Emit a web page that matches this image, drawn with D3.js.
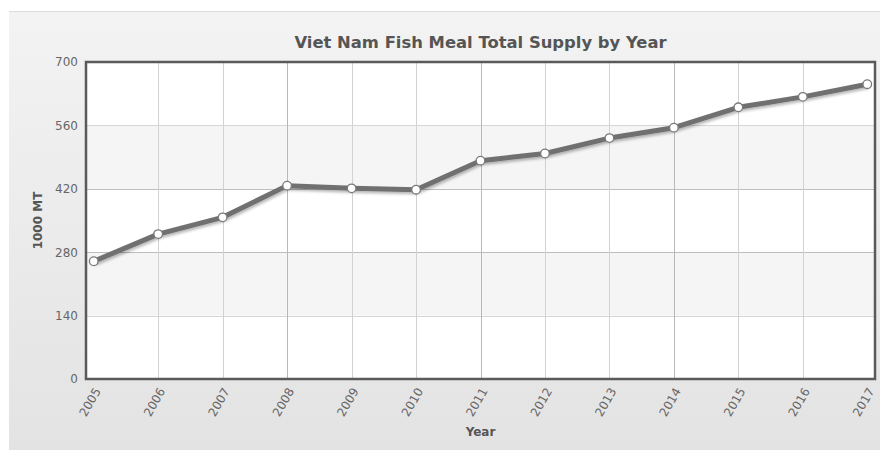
<!DOCTYPE html>
<html>
<head>
<meta charset="utf-8">
<script src="https://cdn.jsdelivr.net/npm/d3@7/dist/d3.min.js"></script>
<style>
  html, body { margin: 0; padding: 0; background: #fff; }
  svg { display: block; font-family: "DejaVu Sans", Verdana, sans-serif; }
</style>
</head>
<body>
<svg id="chart" width="880" height="450"></svg>
<script>
// Viet Nam fish meal total supply, thousand metric tons
const years = ["2005", "2006", "2007", "2008", "2009", "2010", "2011",
               "2012", "2013", "2014", "2015", "2016", "2017"];
const supply = [260, 320, 357, 427, 421, 418, 482, 498, 532, 555, 600, 623, 651];
const yTicks = [0, 140, 280, 420, 560, 700];
const titleText = "Viet Nam Fish Meal Total Supply by Year";
const yAxisTitle = "1000 MT";
const xAxisTitle = "Year";

const W = 880, H = 450;
const plot = { left: 86, right: 875, top: 62, bottom: 379 };

const svg = d3.select("#chart");
const defs = svg.append("defs");

// panel background gradient
const grad = defs.append("linearGradient")
  .attr("id", "panelGrad").attr("x1", 0).attr("y1", 0).attr("x2", 0).attr("y2", 1);
grad.append("stop").attr("offset", "0%").attr("stop-color", "#f3f3f3");
grad.append("stop").attr("offset", "100%").attr("stop-color", "#e3e3e3");

// soft shadow under the series line
const shadow = defs.append("filter").attr("id", "lineShadow")
  .attr("x", "-5%").attr("y", "-20%").attr("width", "110%").attr("height", "140%");
shadow.append("feGaussianBlur").attr("in", "SourceAlpha").attr("stdDeviation", 1.6).attr("result", "b");
shadow.append("feOffset").attr("in", "b").attr("dx", 1).attr("dy", 2).attr("result", "o");
shadow.append("feComponentTransfer").attr("in", "o").attr("result", "s")
  .append("feFuncA").attr("type", "linear").attr("slope", 0.3);
const merge = shadow.append("feMerge");
merge.append("feMergeNode").attr("in", "s");
merge.append("feMergeNode").attr("in", "SourceGraphic");

svg.append("rect")
  .attr("x", 9).attr("y", 11).attr("width", W - 9).attr("height", H - 11)
  .attr("fill", "url(#panelGrad)");
svg.append("line")
  .attr("x1", 9).attr("x2", W).attr("y1", 11.5).attr("y2", 11.5)
  .attr("stroke", "#dcdcdc");

// scales
const x = d3.scalePoint().domain(years)
  .range([plot.left, plot.right]).padding(0.12);
const y = d3.scaleLinear().domain([0, 700]).range([plot.bottom, plot.top]);

// plot background with alternating bands
svg.append("rect")
  .attr("x", plot.left).attr("y", plot.top)
  .attr("width", plot.right - plot.left).attr("height", plot.bottom - plot.top)
  .attr("fill", "#fff");
const bands = d3.pairs(yTicks).filter((d, i) => i % 2 === 1);
svg.append("g").selectAll("rect").data(bands).join("rect")
  .attr("x", plot.left).attr("width", plot.right - plot.left)
  .attr("y", d => y(d[1])).attr("height", d => y(d[0]) - y(d[1]))
  .attr("fill", "#f5f5f5");

// horizontal grid
svg.append("g").selectAll("line").data(yTicks.slice(1, -1)).join("line")
  .attr("x1", plot.left).attr("x2", plot.right)
  .attr("y1", d => Math.round(y(d)) + 0.5).attr("y2", d => Math.round(y(d)) + 0.5)
  .attr("stroke", d => (d === 280 || d === 420) ? "#bdbdbd" : "#d6d6d6");

// vertical grid
svg.append("g").selectAll("line").data(years.slice(1, -1)).join("line")
  .attr("x1", d => Math.round(x(d)) + 0.5).attr("x2", d => Math.round(x(d)) + 0.5)
  .attr("y1", plot.top).attr("y2", plot.bottom)
  .attr("stroke", (d, i) => ((i + 1) % 3 === 0) ? "#b8b8b8" : "#d2d2d2");

// plot frame
svg.append("rect")
  .attr("x", plot.left).attr("y", plot.top)
  .attr("width", plot.right - plot.left).attr("height", plot.bottom - plot.top)
  .attr("fill", "none").attr("stroke", "#5a5a5a").attr("stroke-width", 2.5);

// y axis labels
const yAxis = d3.axisLeft(y).tickValues(yTicks).tickSize(0).tickPadding(8);
const gy = svg.append("g").attr("transform", `translate(${plot.left},0)`).call(yAxis);
gy.select(".domain").remove();
gy.selectAll("text").attr("font-size", 12).attr("fill", "#666")
  .attr("font-family", "DejaVu Sans, Verdana, sans-serif");

// x axis labels, rotated
const xAxis = d3.axisBottom(x).tickSize(0).tickPadding(0);
const gx = svg.append("g").attr("transform", `translate(0,${plot.bottom})`).call(xAxis);
gx.select(".domain").remove();
gx.selectAll("text")
  .attr("font-size", 12).attr("fill", "#666")
  .attr("font-family", "DejaVu Sans, Verdana, sans-serif")
  .attr("text-anchor", "end")
  .attr("dy", 0)
  .attr("transform", "translate(7,12) rotate(-60)");

// series line
const line = d3.line().x((d, i) => x(years[i])).y(d => y(d));
svg.append("path")
  .datum(supply)
  .attr("d", line)
  .attr("fill", "none")
  .attr("stroke", "#707070")
  .attr("stroke-width", 5)
  .attr("stroke-linejoin", "round")
  .attr("filter", "url(#lineShadow)");

svg.append("g").selectAll("circle").data(supply).join("circle")
  .attr("cx", (d, i) => x(years[i])).attr("cy", d => y(d))
  .attr("r", 4.3)
  .attr("fill", "#fff").attr("stroke", "#7a7a7a").attr("stroke-width", 1.3);

// titles
svg.append("text")
  .attr("x", (plot.left + plot.right) / 2).attr("y", 48)
  .attr("text-anchor", "middle")
  .attr("font-size", 16.4).attr("font-weight", "bold").attr("fill", "#555")
  .text(titleText);

svg.append("text")
  .attr("transform", `translate(42,${(plot.top + plot.bottom) / 2}) rotate(-90)`)
  .attr("text-anchor", "middle")
  .attr("font-size", 12).attr("font-weight", "bold").attr("fill", "#555")
  .text(yAxisTitle);

svg.append("text")
  .attr("x", (plot.left + plot.right) / 2).attr("y", 436)
  .attr("text-anchor", "middle")
  .attr("font-size", 12).attr("font-weight", "bold").attr("fill", "#555")
  .text(xAxisTitle);
</script>
</body>
</html>
